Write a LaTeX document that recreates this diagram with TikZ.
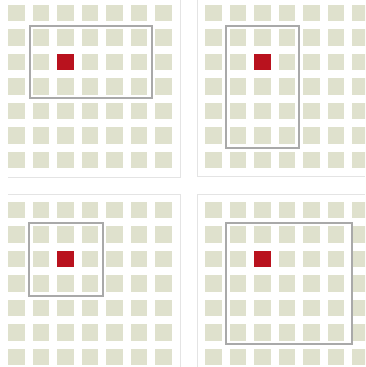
\documentclass[tikz,border=0pt]{standalone}
\definecolor{sage}{HTML}{DFE1CD}
\definecolor{hotred}{HTML}{B9121E}
\definecolor{zonegray}{HTML}{A9A9A9}
\definecolor{panelgray}{HTML}{E4E4E4}
\begin{document}
\begin{tikzpicture}[x=1pt,y=-1pt,
  cellsq/.style={fill=sage},
  hotsq/.style={fill=hotred},
  zoneframe/.style={draw=zonegray,line width=2pt},
  panelline/.style={draw=panelgray,line width=1pt}]
\useasboundingbox (0,0) rectangle (365,367);
\clip (0,0) rectangle (365,367);
\fill[white] (0,0) rectangle (365,367);
% panel frame lines
\draw[panelline] (8,177) -- (180,177) -- (180,0);
\draw[panelline] (197,0) -- (197,176) -- (365,176);
\draw[panelline] (8,194) -- (180,194) -- (180,367);
\draw[panelline] (365,194) -- (197,194) -- (197,367);
% grids
\foreach \ox/\oy in {0/0,197/0,0/197,197/197}{
  \foreach \i in {0,...,6}{
    \foreach \j in {0,...,6}{
      \path[cellsq] ({\ox+8+24.5*\i},{\oy+4.5+24.5*\j}) rectangle ++(16.5,16.5);
    }}
  \path[hotsq] ({\ox+8+49},{\oy+4.5+49}) rectangle ++(16.5,16.5);
}
% zone rectangles
\draw[zoneframe] (30,26) rectangle (152,98);
\draw[zoneframe] (226,26) rectangle (299,148);
\draw[zoneframe] (29,222.7) rectangle (103,295.7);
\draw[zoneframe] (226,223) rectangle (351.7,344);
\end{tikzpicture}
\end{document}
